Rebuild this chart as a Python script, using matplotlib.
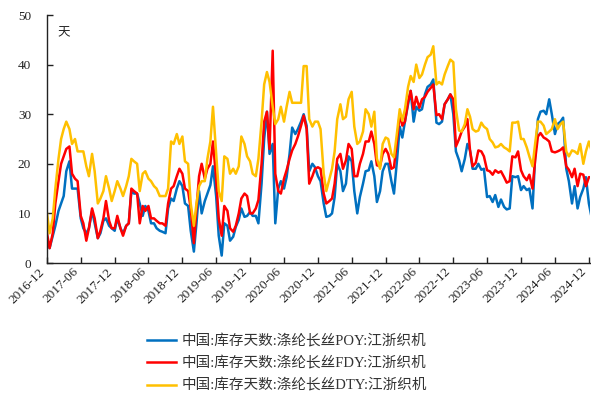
import numpy as np
import pandas as pd
import matplotlib
matplotlib.use('Agg')
import matplotlib.pyplot as plt

# semi-monthly observation dates
dates = pd.date_range('2016-12-01', '2024-12-15', freq='SMS')

poy = [
    5, 3, 5.5, 7.5, 10.5, 12, 13.5, 18.5, 20.5, 15, 15, 15, 9, 7, 6, 7, 10.5, 8, 5, 6, 8.5, 9, 7.5, 7,
    6.5, 9, 7, 6, 7.5, 8, 14.5, 14, 14, 12, 9.5, 11.5, 10.5, 8, 8, 7, 6.5, 6.3, 6, 11, 13, 12.5, 15, 16.5,
    15.5, 12, 11.5, 6.5, 2.3, 8, 14.5, 10, 12.5, 14, 15.7, 19.5, 13.5, 5.5, 1.5, 8, 7.5, 4.5, 5.3, 7.3, 8.7, 11, 9.3, 9.5,
    10.3, 9.5, 9.5, 8, 16, 25, 30.5, 22, 24, 8, 15, 16.5, 15, 17.3, 22, 27.3, 26, 27, 28.5, 30, 27.7, 18.5, 20, 19.3,
    17.5, 16.5, 12, 9.3, 9.5, 10, 13.3, 20, 18.5, 14.5, 16, 21.5, 20.5, 14.5, 10, 13.3, 16, 18.5, 18.7, 20.5, 17.5, 12.3, 14.5, 18.5,
    20, 20, 16.5, 14, 21, 27.5, 25.3, 28.5, 32, 34.7, 28.5, 31.5, 30.7, 31, 34, 35.5, 36, 37, 28.3, 28, 28.5, 32, 33, 34,
    30, 22.5, 20.7, 18.5, 21, 24, 22.7, 19, 19, 20, 18.8, 19, 13.3, 13.5, 12.3, 13.7, 11.3, 12.8, 11.3, 10.8, 11, 17.5, 17.3, 17.5,
    14.7, 15.5, 14.7, 15, 11, 21.3, 29, 30.5, 30.7, 30, 33, 30, 26, 28, 28.5, 29.3, 19, 16.5, 12, 15.5, 11, 13.3, 15, 17.3,
    12, 9.3,
]

fdy = [
    6, 3, 6, 12, 16.5, 20, 21.5, 23, 23.5, 18, 17, 16.5, 9.5, 8, 4.5, 7, 11, 9, 5, 6.5, 9, 12.5, 8.5, 7,
    7, 9.5, 7, 5.5, 7.5, 8, 15, 14.5, 14, 8, 11.5, 10.5, 11.5, 9, 9, 8.5, 8, 8, 7.5, 12, 15, 15.5, 17.5, 19,
    18, 15, 14.5, 11, 4, 11, 17.5, 20, 17, 19, 20, 24.5, 17, 9, 5.5, 11.5, 10.5, 7, 6.3, 7.5, 10, 13, 14, 13.5,
    10, 10, 11, 12.7, 20, 28.5, 30.5, 23, 42.8, 18, 14.5, 14, 17, 18.7, 21, 22.7, 24, 25.5, 27.7, 29.7, 27, 16, 17.5, 19,
    19.3, 19, 14, 12, 12.5, 13, 16, 21, 22, 19, 20.7, 24, 23, 17.5, 17.5, 20, 22, 24.5, 24.5, 26.5, 24, 19.7, 19.5, 22,
    23, 22, 19, 19.3, 25, 30, 27.7, 28.5, 32.5, 34.7, 31, 33.5, 31.3, 33, 33.5, 34.5, 35.3, 36, 29.8, 30, 29, 32, 33, 34,
    33, 23.5, 25, 26.5, 27.5, 29, 22.7, 19.5, 20.2, 22.7, 22.5, 21.5, 18.7, 18.5, 17.8, 18.7, 18.2, 18.5, 17.3, 16.2, 16.5, 21.5, 21.3, 22.5,
    18.7, 17.5, 16.7, 17.8, 15, 20.7, 25.5, 26.2, 25.3, 25, 24.5, 22.5, 22.3, 22.5, 22.8, 23.3, 19.5, 18.8, 17.3, 19, 15.5, 18, 17.8, 15.5,
    17.3, 17.3,
]

dty = [
    10, 6, 9, 15, 21, 25, 27, 28.5, 27, 24, 25, 22.5, 22.5, 22.5, 19.5, 17.5, 22, 18.5, 12, 13, 14.5, 17.5, 15, 12.5,
    14.5, 16.5, 15, 13.5, 15.5, 17.5, 21, 20.5, 20, 14.5, 18, 18.5, 17, 16.5, 15.5, 15, 13.5, 13.5, 13.5, 15, 24.5, 24, 26, 24,
    25.5, 20.5, 20, 12, 7.5, 12, 15.5, 16.5, 16.5, 21, 24.5, 31.5, 22, 14.5, 12.5, 21.5, 21, 18, 19, 18, 19.5, 25.5, 24, 21.5,
    20.5, 18, 17.5, 21, 28.5, 36, 38.5, 36.5, 31.5, 28, 29, 31.5, 28.5, 31.5, 34.5, 32.3, 32.3, 32.3, 32.3, 39.7, 39.7, 29, 27.5, 28.5,
    28.5, 27, 18, 14.5, 17, 19, 22.5, 29, 32, 29, 29.5, 33, 34.5, 27.5, 24, 24.5, 26.5, 31, 30, 27.5, 30.5, 21, 19, 24,
    25.3, 25, 22, 21.3, 26.5, 31, 28.7, 31, 35.5, 37.7, 36.5, 40, 37.3, 38, 40, 41.5, 42, 43.7, 36, 36.5, 36, 38, 39.7, 41,
    40.5, 31, 26.7, 26.5, 28, 31, 29.5, 27, 26.5, 26.7, 28.3, 27.5, 27, 25, 24.3, 23.3, 23.5, 24, 23.3, 23, 22.5, 28.3, 28.3, 28.5,
    25, 25, 23.3, 21.5, 19.5, 24, 28.5, 28.5, 27.7, 26, 26.5, 27, 29, 27, 28, 28.5, 22.5, 21.5, 22.7, 22.5, 22, 24, 20, 22.5,
    24.5, 22.7,
]

labels = ['中国:库存天数:涤纶长丝POY:江浙织机',
          '中国:库存天数:涤纶长丝FDY:江浙织机',
          '中国:库存天数:涤纶长丝DTY:江浙织机']
colors = ['#0070C0', '#FF0000', '#FFC000']

tick_dates = pd.date_range('2016-12-01', '2024-12-01', freq='6MS')
tick_labels = [d.strftime('%Y-%m') for d in tick_dates]

fam = ['Liberation Serif', 'Noto Sans CJK SC']
plt.rcParams['font.family'] = fam

fig = plt.figure(figsize=(5.91, 3.94), dpi=100)
ax = fig.add_axes([47 / 591, 1 - 263 / 394, 543 / 591, 248 / 394])

for vals, lab, c in zip([poy, fdy, dty], labels, colors):
    ax.plot(dates[:len(vals)], vals, color=c, lw=1.8, label=lab, solid_joinstyle='round')

ax.set_ylim(0, 50)
ax.set_yticks(np.arange(0, 51, 10))
ax.set_xlim(dates[0], pd.Timestamp('2024-12-07'))
ax.set_xticks(tick_dates)
ax.set_xticklabels(tick_labels, rotation=45, ha='right')

for s in ['top', 'right']:
    ax.spines[s].set_visible(False)
for s in ['left', 'bottom']:
    ax.spines[s].set_color('#222222')
    ax.spines[s].set_linewidth(1.0)

ax.tick_params(axis='both', direction='in', length=4, width=1, colors='#222222', labelsize=9.5)
ax.tick_params(axis='y', pad=11.5)
ax.tick_params(axis='x', pad=2)
for t in ax.get_xticklabels() + ax.get_yticklabels():
    t.set_color('#222222')

ax.text(0.03, 0.927, '天', transform=ax.transAxes, fontsize=9, ha='center', va='center',
        family=['Noto Sans CJK SC'], color='#222222')

leg = fig.legend(loc='upper left', bbox_to_anchor=(147 / 591, 1 - 334 / 394), frameon=False,
                 borderaxespad=0, borderpad=0, handlelength=2.0, handletextpad=0.35,
                 labelspacing=0.58, prop={'family': fam, 'size': 10.5})
for t in leg.get_texts():
    t.set_color('#333333')

fig.savefig('out.png', dpi=100)
